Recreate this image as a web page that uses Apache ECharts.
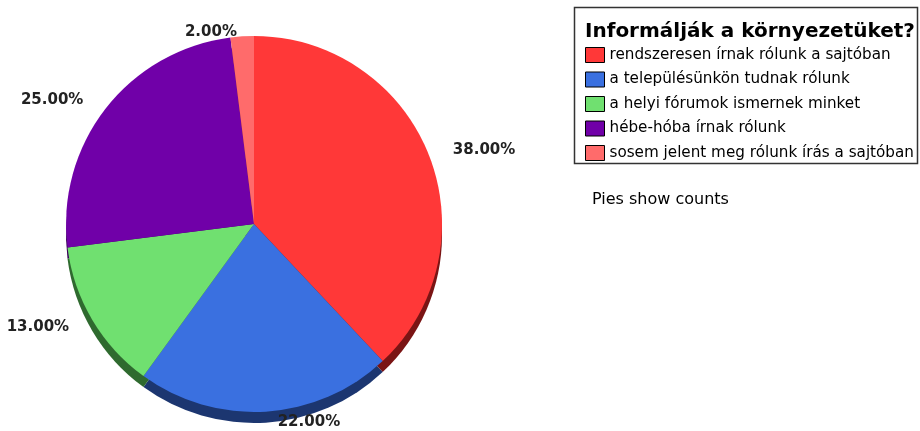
<!DOCTYPE html>
<html><head><meta charset="utf-8">
<script src="https://cdn.jsdelivr.net/npm/echarts@6/dist/echarts.min.js"></script>
<style>html,body{margin:0;padding:0;background:#fff}#c{width:920px;height:431px}</style>
</head><body><div id="c"></div>
<script>
const categories = ['rendszeresen írnak rólunk a sajtóban','a településünkön tudnak rólunk','a helyi fórumok ismernek minket','hébe-hóba írnak rólunk','sosem jelent meg rólunk írás a sajtóban'];
const values = [38, 22, 13, 25, 2];
const colors = ['#ff3838','#3a70e0','#70e070','#7000a8','#ff6b6b'];
const rimColors = ['#7a1414','#1c3670','#2f6a2f','#3a0058','#8a3030'];
const legendTitle = 'Informálják a környezetüket?';
const note = 'Pies show counts';

const chart = echarts.init(document.getElementById('c'));
const font = 'DejaVu Sans, sans-serif';
const cx = 254, cy = 224, r = 188, depth = 11;
chart.setOption({
  animation: false,
  title: [
    {text: legendTitle, left: 580, top: 17, textStyle: {fontFamily: font, fontWeight: 'bold', fontSize: 20, color: '#000'}},
    {text: note, left: 587, top: 187, textStyle: {fontFamily: font, fontWeight: 'normal', fontSize: 16, color: '#000'}}
  ],
  legend: {
    orient: 'vertical', left: 580, top: 42, itemWidth: 19, itemHeight: 15, itemGap: 8.5,
    icon: 'rect', data: categories,
    itemStyle: {borderColor: '#000', borderWidth: 1},
    textStyle: {fontFamily: font, fontSize: 15.2, color: '#000'}
  },
  graphic: [{type: 'rect', shape: {x: 574.5, y: 7.5, width: 343, height: 156}, style: {fill: 'none', stroke: '#333', lineWidth: 1.5}, z: -1}],
  series: [
    {
      type: 'pie', center: [cx, cy + depth], radius: r, startAngle: 90, silent: true,
      label: {show: false}, labelLine: {show: false}, legendHoverLink: false,
      data: values.map((v, i) => ({value: v, name: 'rim' + i, itemStyle: {color: rimColors[i]}})),
      z: 1
    },
    {
      type: 'pie', center: [cx, cy], radius: r, startAngle: 90,
      data: values.map((v, i) => ({
        value: v, name: categories[i], itemStyle: {color: colors[i]},
        labelLine: v < 5 ? {show: false, length: 4, length2: 0} : undefined
      })),
      label: {show: true, position: 'outside', overflow: 'none', formatter: p => p.value.toFixed(2) + '%', fontFamily: font, fontWeight: 'bold', fontSize: 15, color: '#222'},
      labelLine: {show: false, length: 14, length2: 6},
      z: 2
    }
  ]
});
</script></body></html>
